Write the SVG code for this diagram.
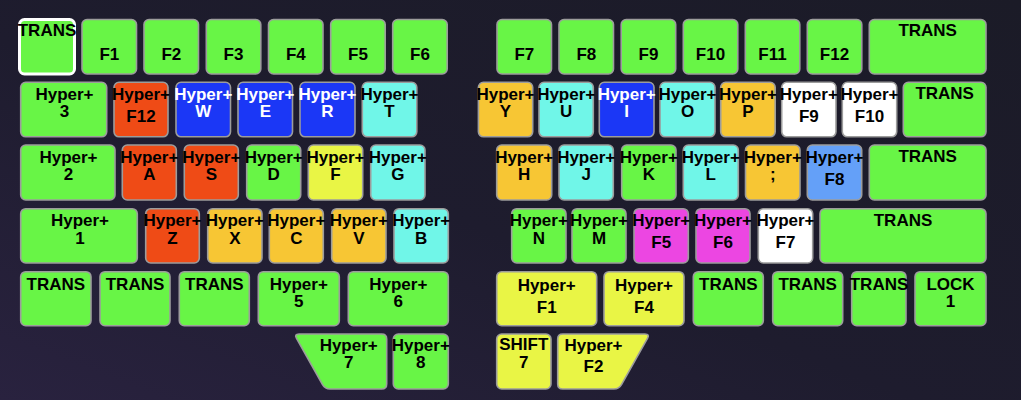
<svg xmlns="http://www.w3.org/2000/svg" width="1021" height="400" viewBox="0 0 1021 400">
<defs>
<linearGradient id="bg" x1="1" y1="0" x2="0" y2="1">
<stop offset="0" stop-color="#1b1b27"/>
<stop offset="0.55" stop-color="#1e1c2e"/>
<stop offset="1" stop-color="#29223f"/>
</linearGradient>
</defs>
<style>
.k{stroke:#9c9c9c;stroke-width:1.6}
.g{fill:#68f546}.o{fill:#ef4b16}.b{fill:#1b37f6}.c{fill:#70f6e8}.y{fill:#f7c634}.l{fill:#e9f545}.m{fill:#ec46e2}.lb{fill:#64a0f8}.w{fill:#ffffff}
.sel{stroke:#ffffff;stroke-width:3}
text{font-family:"Liberation Sans",Arial,sans-serif;font-weight:bold;font-size:17px;text-anchor:middle;fill:#000}
text.wt{fill:#fff}
</style>
<rect width="1021" height="400" fill="url(#bg)"/>
<g id="connectors"/>

<!-- Row 0 left -->
<g id="k-trans-tl"><rect class="g sel" x="19.5" y="19.5" width="55" height="54.5" rx="5"/><text x="47" y="36">TRANS</text></g>
<g id="k-f1"><rect class="k g" x="82" y="19.5" width="54.5" height="54.5" rx="5"/><text x="109.3" y="59.5">F1</text></g>
<g id="k-f2"><rect class="k g" x="144" y="19.5" width="54.5" height="54.5" rx="5"/><text x="171.3" y="59.5">F2</text></g>
<g id="k-f3"><rect class="k g" x="206.3" y="19.5" width="54.5" height="54.5" rx="5"/><text x="233.5" y="59.5">F3</text></g>
<g id="k-f4"><rect class="k g" x="268.5" y="19.5" width="54.5" height="54.5" rx="5"/><text x="295.8" y="59.5">F4</text></g>
<g id="k-f5"><rect class="k g" x="330.7" y="19.5" width="54.5" height="54.5" rx="5"/><text x="358" y="59.5">F5</text></g>
<g id="k-f6"><rect class="k g" x="392.7" y="19.5" width="54.5" height="54.5" rx="5"/><text x="420" y="59.5">F6</text></g>
<!-- Row 0 right -->
<g id="k-f7"><rect class="k g" x="497" y="19.5" width="54.5" height="54.5" rx="5"/><text x="524.3" y="59.5">F7</text></g>
<g id="k-f8"><rect class="k g" x="559" y="19.5" width="54.5" height="54.5" rx="5"/><text x="586.3" y="59.5">F8</text></g>
<g id="k-f9"><rect class="k g" x="621.2" y="19.5" width="54.5" height="54.5" rx="5"/><text x="648.5" y="59.5">F9</text></g>
<g id="k-f10"><rect class="k g" x="683.3" y="19.5" width="54.5" height="54.5" rx="5"/><text x="710.5" y="59.5">F10</text></g>
<g id="k-f11"><rect class="k g" x="745.3" y="19.5" width="54.5" height="54.5" rx="5"/><text x="772.5" y="59.5">F11</text></g>
<g id="k-f12"><rect class="k g" x="807.3" y="19.5" width="54.5" height="54.5" rx="5"/><text x="834.5" y="59.5">F12</text></g>
<g id="k-trans-r0"><rect class="k g" x="869.3" y="19.5" width="116.7" height="54.5" rx="5"/><text x="927.7" y="36">TRANS</text></g>

<!-- Row 1 left -->
<g id="k-h3"><rect class="k g" x="20.7" y="82.3" width="86" height="54.5" rx="5"/><text><tspan x="64.5" y="99.5">Hyper+</tspan><tspan x="64.5" y="117">3</tspan></text></g>
<g id="k-hf12"><rect class="k o" x="114" y="82.3" width="54" height="54.5" rx="5"/><text><tspan x="141" y="99.5">Hyper+</tspan><tspan x="141" y="121.8">F12</tspan></text></g>
<g id="k-hw"><rect class="k b" x="176" y="82.3" width="54.5" height="54.5" rx="5"/><text class="wt"><tspan x="203.3" y="99.5">Hyper+</tspan><tspan x="203.3" y="117">W</tspan></text></g>
<g id="k-he"><rect class="k b" x="238" y="82.3" width="54.5" height="54.5" rx="5"/><text class="wt"><tspan x="265.3" y="99.5">Hyper+</tspan><tspan x="265.3" y="117">E</tspan></text></g>
<g id="k-hr"><rect class="k b" x="300" y="82.3" width="55" height="54.5" rx="5"/><text class="wt"><tspan x="327.5" y="99.5">Hyper+</tspan><tspan x="327.5" y="117">R</tspan></text></g>
<g id="k-ht"><rect class="k c" x="362.3" y="82.3" width="54.5" height="54.5" rx="5"/><text><tspan x="389.5" y="99.5">Hyper+</tspan><tspan x="389.5" y="117">T</tspan></text></g>
<!-- Row 1 right -->
<g id="k-hy"><rect class="k y" x="478.4" y="82.3" width="54.3" height="54.5" rx="5"/><text><tspan x="505.5" y="99.5">Hyper+</tspan><tspan x="505.5" y="117">Y</tspan></text></g>
<g id="k-hu"><rect class="k c" x="539" y="82.3" width="54.3" height="54.5" rx="5"/><text><tspan x="566.2" y="99.5">Hyper+</tspan><tspan x="566.2" y="117">U</tspan></text></g>
<g id="k-hi"><rect class="k b" x="599.3" y="82.3" width="54.7" height="54.5" rx="5"/><text class="wt"><tspan x="626.7" y="99.5">Hyper+</tspan><tspan x="626.7" y="117">I</tspan></text></g>
<g id="k-ho"><rect class="k c" x="660" y="82.3" width="55" height="54.5" rx="5"/><text><tspan x="687.5" y="99.5">Hyper+</tspan><tspan x="687.5" y="117">O</tspan></text></g>
<g id="k-hp"><rect class="k y" x="720.7" y="82.3" width="54.5" height="54.5" rx="5"/><text><tspan x="748" y="99.5">Hyper+</tspan><tspan x="748" y="117">P</tspan></text></g>
<g id="k-hf9"><rect class="k w" x="781.7" y="82.3" width="54.3" height="54.5" rx="5"/><text><tspan x="808.8" y="99.5">Hyper+</tspan><tspan x="808.8" y="121.5">F9</tspan></text></g>
<g id="k-hf10"><rect class="k w" x="842.3" y="82.3" width="54.4" height="54.5" rx="5"/><text><tspan x="869.5" y="99.5">Hyper+</tspan><tspan x="869.5" y="121.5">F10</tspan></text></g>
<g id="k-trans-r1"><rect class="k g" x="903.3" y="82.3" width="82.7" height="54.5" rx="5"/><text x="944.7" y="99">TRANS</text></g>

<!-- Row 2 left -->
<g id="k-h2"><rect class="k g" x="20.7" y="145" width="94.3" height="55" rx="5"/><text><tspan x="68.5" y="162.5">Hyper+</tspan><tspan x="68.5" y="180">2</tspan></text></g>
<g id="k-ha"><rect class="k o" x="122.3" y="145" width="54" height="55" rx="5"/><text><tspan x="149.3" y="162.5">Hyper+</tspan><tspan x="149.3" y="180">A</tspan></text></g>
<g id="k-hs"><rect class="k o" x="184.3" y="145" width="54" height="55" rx="5"/><text><tspan x="211.3" y="162.5">Hyper+</tspan><tspan x="211.3" y="180">S</tspan></text></g>
<g id="k-hd"><rect class="k g" x="246.7" y="145" width="54" height="55" rx="5"/><text><tspan x="273.7" y="162.5">Hyper+</tspan><tspan x="273.7" y="180">D</tspan></text></g>
<g id="k-hff"><rect class="k l" x="308.3" y="145" width="54.4" height="55" rx="5"/><text><tspan x="335.5" y="162.5">Hyper+</tspan><tspan x="335.5" y="180">F</tspan></text></g>
<g id="k-hg"><rect class="k c" x="370.7" y="145" width="54.3" height="55" rx="5"/><text><tspan x="397.8" y="162.5">Hyper+</tspan><tspan x="397.8" y="180">G</tspan></text></g>
<!-- Row 2 right -->
<g id="k-hh"><rect class="k y" x="496.7" y="145" width="55" height="55" rx="5"/><text><tspan x="524.2" y="162.5">Hyper+</tspan><tspan x="524.2" y="180">H</tspan></text></g>
<g id="k-hj"><rect class="k c" x="559" y="145" width="54.3" height="55" rx="5"/><text><tspan x="586.2" y="162.5">Hyper+</tspan><tspan x="586.2" y="180">J</tspan></text></g>
<g id="k-hk"><rect class="k g" x="621.7" y="145" width="54.3" height="55" rx="5"/><text><tspan x="648.8" y="162.5">Hyper+</tspan><tspan x="648.8" y="180">K</tspan></text></g>
<g id="k-hl"><rect class="k c" x="683.3" y="145" width="55" height="55" rx="5"/><text><tspan x="710.8" y="162.5">Hyper+</tspan><tspan x="710.8" y="180">L</tspan></text></g>
<g id="k-hsemi"><rect class="k y" x="745.5" y="145" width="54.5" height="55" rx="5"/><text><tspan x="772.8" y="162.5">Hyper+</tspan><tspan x="772.8" y="180">;</tspan></text></g>
<g id="k-hf8"><rect class="k lb" x="807.3" y="145" width="54.4" height="55" rx="5"/><text><tspan x="834.5" y="162.5">Hyper+</tspan><tspan x="834.5" y="184.5">F8</tspan></text></g>
<g id="k-trans-r2"><rect class="k g" x="869.3" y="145" width="116.7" height="55" rx="5"/><text x="927.7" y="162">TRANS</text></g>

<!-- Row 3 left -->
<g id="k-h1"><rect class="k g" x="20.7" y="208.7" width="116.6" height="54.3" rx="5"/><text><tspan x="80" y="226">Hyper+</tspan><tspan x="80" y="243.5">1</tspan></text></g>
<g id="k-hz"><rect class="k o" x="145.7" y="208.7" width="53.6" height="54.3" rx="5"/><text><tspan x="172.5" y="226">Hyper+</tspan><tspan x="172.5" y="243.5">Z</tspan></text></g>
<g id="k-hx"><rect class="k y" x="207.7" y="208.7" width="54.3" height="54.3" rx="5"/><text><tspan x="234.8" y="226">Hyper+</tspan><tspan x="234.8" y="243.5">X</tspan></text></g>
<g id="k-hc"><rect class="k y" x="269.3" y="208.7" width="54" height="54.3" rx="5"/><text><tspan x="296.3" y="226">Hyper+</tspan><tspan x="296.3" y="243.5">C</tspan></text></g>
<g id="k-hv"><rect class="k y" x="331.7" y="208.7" width="54.3" height="54.3" rx="5"/><text><tspan x="358.8" y="226">Hyper+</tspan><tspan x="358.8" y="243.5">V</tspan></text></g>
<g id="k-hb"><rect class="k c" x="394" y="208.7" width="54.3" height="54.3" rx="5"/><text><tspan x="421.2" y="226">Hyper+</tspan><tspan x="421.2" y="243.5">B</tspan></text></g>
<!-- Row 3 right -->
<g id="k-hn"><rect class="k g" x="511.7" y="208.7" width="54.3" height="54.3" rx="5"/><text><tspan x="538.8" y="226">Hyper+</tspan><tspan x="538.8" y="243.5">N</tspan></text></g>
<g id="k-hm"><rect class="k g" x="572" y="208.7" width="54" height="54.3" rx="5"/><text><tspan x="599" y="226">Hyper+</tspan><tspan x="599" y="243.5">M</tspan></text></g>
<g id="k-hf5"><rect class="k m" x="634" y="208.7" width="54.3" height="54.3" rx="5"/><text><tspan x="661.2" y="226">Hyper+</tspan><tspan x="661.2" y="248.3">F5</tspan></text></g>
<g id="k-hf6"><rect class="k m" x="696" y="208.7" width="54" height="54.3" rx="5"/><text><tspan x="723" y="226">Hyper+</tspan><tspan x="723" y="248.3">F6</tspan></text></g>
<g id="k-hf7"><rect class="k w" x="758.3" y="208.7" width="54.4" height="54.3" rx="5"/><text><tspan x="785.5" y="226">Hyper+</tspan><tspan x="785.5" y="248.3">F7</tspan></text></g>
<g id="k-trans-r3"><rect class="k g" x="820" y="208.7" width="166" height="54.3" rx="5"/><text x="903" y="226">TRANS</text></g>

<!-- Row 4 left -->
<g id="k-trans-a"><rect class="k g" x="20.7" y="271.7" width="70.3" height="54" rx="5"/><text x="55.8" y="290">TRANS</text></g>
<g id="k-trans-b"><rect class="k g" x="100" y="271.7" width="70" height="54" rx="5"/><text x="135" y="290">TRANS</text></g>
<g id="k-trans-c"><rect class="k g" x="179.3" y="271.7" width="70" height="54" rx="5"/><text x="214.3" y="290">TRANS</text></g>
<g id="k-h5"><rect class="k g" x="258.3" y="271.7" width="81" height="54" rx="5"/><text><tspan x="298.8" y="289.5">Hyper+</tspan><tspan x="298.8" y="307.2">5</tspan></text></g>
<g id="k-h6"><rect class="k g" x="348.3" y="271.7" width="100" height="54" rx="5"/><text><tspan x="398.3" y="289.5">Hyper+</tspan><tspan x="398.3" y="307.2">6</tspan></text></g>
<!-- Row 4 right -->
<g id="k-hf1"><rect class="k l" x="496.7" y="271.7" width="100" height="54" rx="5"/><text><tspan x="546.7" y="290.5">Hyper+</tspan><tspan x="546.7" y="313">F1</tspan></text></g>
<g id="k-hf4"><rect class="k l" x="604" y="271.7" width="80" height="54" rx="5"/><text><tspan x="644" y="290.5">Hyper+</tspan><tspan x="644" y="313">F4</tspan></text></g>
<g id="k-trans-d"><rect class="k g" x="693.3" y="271.7" width="70" height="54" rx="5"/><text x="728.3" y="290">TRANS</text></g>
<g id="k-trans-e"><rect class="k g" x="772.7" y="271.7" width="70" height="54" rx="5"/><text x="807.7" y="290">TRANS</text></g>
<g id="k-trans-f"><rect class="k g" x="851.7" y="271.7" width="54.3" height="54" rx="5"/><text x="879" y="290">TRANS</text></g>
<g id="k-lock1"><rect class="k g" x="915" y="271.7" width="71" height="54" rx="5"/><text><tspan x="950.5" y="289.5">LOCK</tspan><tspan x="950.5" y="307.2">1</tspan></text></g>

<!-- Row 5 -->
<g id="k-h7"><path class="k g" d="M299 334 H381.7 Q386.7 334 386.7 339 V384 Q386.7 389 381.7 389 H330 Q325 389 322.5 384.6 L296.5 338.4 Q294 334 299 334 Z"/><text><tspan x="348.7" y="350.7">Hyper+</tspan><tspan x="348.7" y="368.3">7</tspan></text></g>
<g id="k-h8"><rect class="k g" x="393.3" y="334" width="55" height="55" rx="5"/><text><tspan x="420.8" y="350.7">Hyper+</tspan><tspan x="420.8" y="368.3">8</tspan></text></g>
<g id="k-shift7"><rect class="k l" x="496.7" y="334" width="54.3" height="55" rx="5"/><text><tspan x="523.8" y="350.2">SHIFT</tspan><tspan x="523.8" y="367.8">7</tspan></text></g>
<g id="k-hf2"><path class="k l" d="M562.7 334 H645 Q650 334 647.5 338.4 L621.5 384.6 Q619 389 614 389 H562.7 Q557.7 389 557.7 384 V339 Q557.7 334 562.7 334 Z"/><text><tspan x="593.5" y="350.5">Hyper+</tspan><tspan x="593.5" y="371.5">F2</tspan></text></g>
</svg>
